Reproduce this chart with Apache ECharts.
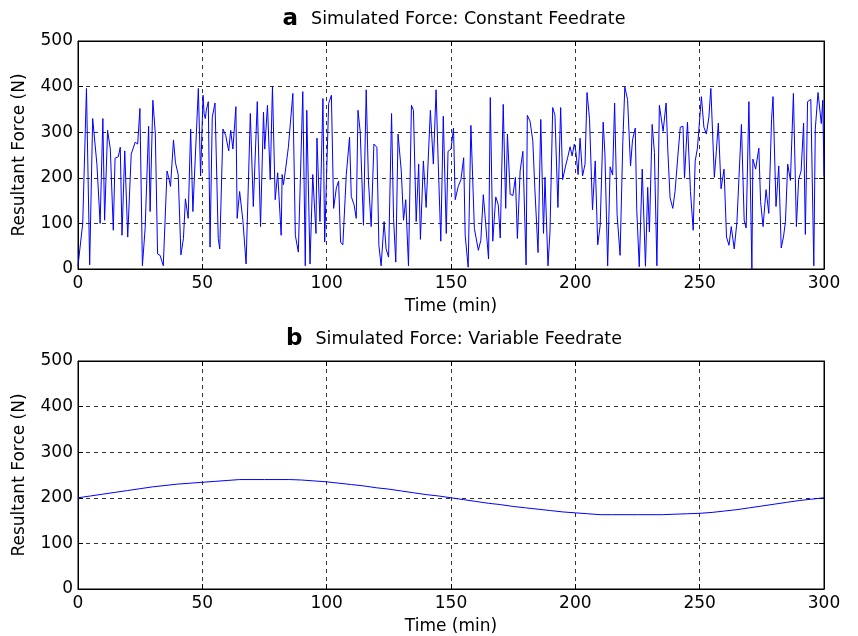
<!DOCTYPE html>
<html>
<head>
<meta charset="utf-8">
<script src="https://cdn.jsdelivr.net/npm/echarts@6/dist/echarts.min.js"></script>
<style>
html,body{margin:0;padding:0;background:#fff;}
#chart{width:858px;height:636px;}
</style>
</head>
<body>
<div id="chart"></div>
<script>
// ---- Data ----
var xTicks = [0, 50, 100, 150, 200, 250, 300];
var yTicks = [0, 100, 200, 300, 400, 500];

var timeA = [0,1.9,3.4,4.7,5.9,7.6,8.9,10,10.7,11.9,13,14.2,14.9,16.2,17,17.7,18.8,20,21.4,23,24,24.9,25.9,27,28.4,29,30.1,31.1,32,33,34.3,35.8,36.5,37.2,38.4,39.2,40.3,41.4,42.4,43.2,44.3,45.3,46.2,48.4,49.3,50.3,
50.7,51.2,51.6,52.4,53.1,54,55.1,56.4,57,58.3,59.4,60.6,61.4,62.3,63.5,64,65,66.3,67.6,69.3,70.5,72.1,73.4,74.6,75.1,76.2,77.3,78.2,79.3,80.3,81.7,82.1,82.6,83.3,84.6,85,86.4,87.4,88.6,90.4,91.4,92,93.3,94.4,95.7,96.1,97.3,98.5,99.2,
100.8,101.9,102.8,103.9,104.8,105.6,106.5,107.9,109.2,109.9,111,111.9,112.6,113.5,114.8,115.9,116.8,117.9,119,120.2,121,121.9,123.1,123.9,124.9,126.1,126.9,127.8,128.7,130,130.9,131.8,132.9,134.1,134.9,136,137,137.7,138.9,140,141.7,142.9,144,144.9,145.9,146.9,148.1,148.8,150,151,
151.7,152.9,154,155.1,155.7,156.9,158,159.4,161,162,163,163.8,165.1,165.8,166.8,168,169,169.8,171,172,172.7,173.8,174.9,175.9,176.7,177.8,178.9,180.2,180.7,181.8,182.9,183.7,185,186.1,187.2,187.8,189,189.8,190.9,191.8,193,194.1,194.9,196,196.9,197.9,198.7,199.6,
200.2,201.1,201.9,202.9,203.9,204.7,205.7,206.9,208,209,210,211.2,211.9,213,214,215,215.8,216.8,218,219.1,219.9,221,222.2,223,224.1,224.7,225.7,226.9,228.2,229.1,229.8,230.9,231.8,232.8,233.8,235.3,236.5,237.2,238.1,239.2,240.1,241.2,242.2,243.3,243.9,245.1,246.3,247.4,248.2,249.1,249.9,
250.7,251.7,252.7,253.7,254.5,255.9,256.7,257.5,258.6,259.8,260.8,261.8,262.7,263.9,265,265.8,266.8,267.9,268.7,269.8,271,271.4,272.5,273.8,274.5,275.5,276.7,277.8,278.9,279.5,280.7,281.8,282.8,283.7,284.5,285.4,286.5,287.7,288.9,289.8,290.8,291.8,292.5,293.4,294.7,295.9,296.5,297.6,298.9,299.5,300];

var forceA = [7,100,396,9,330,230,100,330,107,304,263,85,243,246,267,74,259,70,252,278,274,352,7,89,313,126,370,296,33,30,7,215,200,181,283,233,207,31,67,154,111,307,126,396,204,381,
341,330,348,367,48,333,364,67,44,307,293,259,304,263,356,111,170,107,11,341,137,367,93,344,263,359,196,400,152,211,74,207,185,211,267,270,385,74,37,389,7,348,11,207,78,287,104,374,59,
363,381,133,178,193,59,53,207,289,159,141,111,348,300,96,393,193,93,274,267,52,7,104,44,26,341,111,15,296,215,107,152,7,359,348,104,230,65,237,135,348,230,393,226,61,335,78,258,263,309,
152,181,196,244,74,4,315,89,41,63,163,163,22,376,61,158,141,68,361,133,296,164,161,201,67,215,258,9,337,324,281,178,36,328,78,201,7,81,354,337,135,354,196,224,244,268,248,274,
258,207,287,204,230,387,330,130,237,53,96,322,252,7,224,206,364,119,30,280,399,372,226,283,309,130,5,219,6,179,81,317,256,7,359,302,364,259,156,133,170,246,311,313,199,322,170,85,237,265,268,
378,311,296,333,396,201,258,320,176,219,70,52,93,44,104,200,317,107,90,367,0,241,219,265,148,93,174,122,327,378,137,226,46,70,104,230,194,385,93,196,215,320,76,367,372,7,307,387,319,370,204];

var timeB = [0,5,10,15,20,25,30,35,40,45,50,55,60,65,70,75,80,85,90,95,100,105,110,115,120,125,130,135,140,145,150,155,160,165,170,175,180,185,190,195,200,205,210,215,220,225,230,235,240,245,250,255,260,265,270,275,280,285,290,295,300];
var forceB = [200,204,208,212,216,220,224,227,230,232,234,236,238,240,240,240,240,240,239,237,235,232,229,226,222,219,215,211,207,204,200,196,192,188,185,181,178,175,172,169,167,165,163,163,163,163,163,163,164,165,166,168,171,174,178,182,186,190,194,197,200];

var titleA = 'Simulated Force: Constant Feedrate';
var titleB = 'Simulated Force: Variable Feedrate';
var xName = 'Time (min)';
var yName = 'Resultant Force (N)';

// ---- Chart ----
var FONT = '"DejaVu Sans", "Liberation Sans", Arial, sans-serif';
var chart = echarts.init(document.getElementById('chart'), null, {renderer: 'canvas'});

function pairs(t, v) { return t.map(function (x, i) { return [x, v[i]]; }); }

var grids = [
  {left: 78, width: 746, top: 41, height: 228},
  {left: 78, width: 746, top: 361, height: 228}
];
grids.forEach(function (g) {
  g.show = true; g.borderColor = '#000'; g.borderWidth = 1; g.backgroundColor = '#fff';
  g.containLabel = false; g.outerBoundsMode = 'none';
});

var dashed = {show: true, lineStyle: {color: '#333', width: 1, type: [4, 4]}};
var tickStyle = {show: true, inside: true, length: 5, lineStyle: {color: '#000', width: 1}};
var labelStyle = {color: '#000', fontSize: 17, fontFamily: FONT};

function mainX(gi) {
  return {type: 'value', gridIndex: gi, min: xTicks[0], max: xTicks[xTicks.length - 1], interval: 50,
    position: 'bottom',
    axisLine: {show: true, onZero: false, lineStyle: {color: '#000', width: 1}},
    axisTick: tickStyle, splitLine: dashed,
    axisLabel: Object.assign({margin: 6}, labelStyle),
    name: xName, nameLocation: 'middle', nameGap: 29,
    nameTextStyle: {color: '#000', fontSize: 17, fontFamily: FONT}};
}
function topX(gi) {
  return {type: 'value', gridIndex: gi, min: 0, max: 300, interval: 50, position: 'top',
    axisLine: {show: true, onZero: false, lineStyle: {color: '#000'}},
    axisTick: tickStyle, axisLabel: {show: false}, splitLine: {show: false}};
}
function mainY(gi) {
  return {type: 'value', gridIndex: gi, min: yTicks[0], max: yTicks[yTicks.length - 1], interval: 100,
    position: 'left',
    axisLine: {show: true, onZero: false, lineStyle: {color: '#000', width: 1}},
    axisTick: tickStyle, splitLine: dashed,
    axisLabel: Object.assign({margin: 5}, labelStyle),
    name: yName, nameLocation: 'middle', nameGap: 50, nameRotate: 90,
    nameTextStyle: {color: '#000', fontSize: 17, fontFamily: FONT}};
}
function rightY(gi) {
  return {type: 'value', gridIndex: gi, min: 0, max: 500, interval: 100, position: 'right',
    axisLine: {show: true, onZero: false, lineStyle: {color: '#000'}},
    axisTick: tickStyle, axisLabel: {show: false}, splitLine: {show: false}};
}

function titleOf(letter, text, top) {
  return {text: '{b|' + letter + '}{t|' + text + '}', left: 449, textAlign: 'center', top: top,
    textStyle: {fontWeight: 'normal', rich: {
      b: {fontSize: 23, fontWeight: 'bold', fontFamily: FONT, color: '#000', padding: [0, 13, 0, 0]},
      t: {fontSize: 17.5, fontWeight: 'normal', fontFamily: FONT, color: '#000'}
    }}};
}

chart.setOption({
  animation: false,
  backgroundColor: '#fff',
  title: [titleOf('a', titleA, 3), titleOf('b', titleB, 323)],
  grid: grids,
  xAxis: [mainX(0), topX(0), mainX(1), topX(1)],
  yAxis: [mainY(0), rightY(0), mainY(1), rightY(1)],
  series: [
    {type: 'line', xAxisIndex: 0, yAxisIndex: 0, data: pairs(timeA, forceA), showSymbol: false,
      lineStyle: {color: '#0000ff', width: 1}, itemStyle: {color: '#0000ff'}},
    {type: 'line', xAxisIndex: 2, yAxisIndex: 2, data: pairs(timeB, forceB), showSymbol: false,
      lineStyle: {color: '#0000ff', width: 1}, itemStyle: {color: '#0000ff'}}
  ]
});
</script>
</body>
</html>
